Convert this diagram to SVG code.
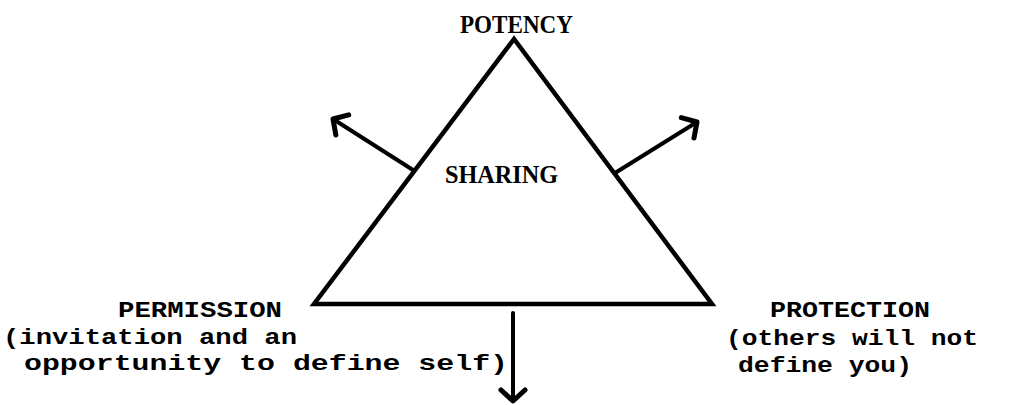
<svg xmlns="http://www.w3.org/2000/svg" width="1013" height="405" viewBox="0 0 1013 405">
  <style>
    .bg { fill: #ffffff; }
    .edge { fill: none; stroke: #000; stroke-width: 4.5; stroke-linejoin: miter; }
    .arrow { fill: none; stroke: #000; stroke-width: 4; stroke-linecap: round; }
    .title { font-family: "Liberation Serif", "Times New Roman", serif; font-weight: bold; font-size: 25px; fill: #000; }
    .mono { font-family: "Liberation Mono", "Courier New", monospace; font-weight: bold; font-size: 22px; fill: #000; }
  </style>
  <defs>
    <marker id="head" markerUnits="userSpaceOnUse" markerWidth="30" markerHeight="30" viewBox="-15 -15 30 30" refX="0" refY="0" orient="auto">
      <path d="M-11,-12 L0,0 L-11,12" fill="none" stroke="#000" stroke-width="5" stroke-linecap="round" stroke-linejoin="round"/>
    </marker>
  </defs>
  <rect class="bg" x="0" y="0" width="1013" height="405"/>

  <g id="triangle">
    <polygon class="edge" points="514,39 314,304 712,304"/>
  </g>

  <g id="connectors">
    <line class="arrow" x1="413" y1="170" x2="333" y2="119" marker-end="url(#head)"/>
    <line class="arrow" x1="615" y1="173" x2="697" y2="122" marker-end="url(#head)"/>
    <line class="arrow" x1="513" y1="313" x2="513" y2="401" marker-end="url(#head)"/>
  </g>

  <g id="potency">
    <text class="title" x="460" y="33" textLength="113" lengthAdjust="spacingAndGlyphs">POTENCY</text>
  </g>

  <g id="sharing">
    <text class="title" x="445" y="183" textLength="113" lengthAdjust="spacingAndGlyphs">SHARING</text>
  </g>

  <g id="permission">
    <text class="mono" x="118" y="317" textLength="164" lengthAdjust="spacingAndGlyphs">PERMISSION</text>
    <text class="mono" x="3" y="344" textLength="294" lengthAdjust="spacingAndGlyphs">(invitation and an</text>
    <text class="mono" x="24" y="370" textLength="484" lengthAdjust="spacingAndGlyphs">opportunity to define self)</text>
  </g>

  <g id="protection">
    <text class="mono" x="770" y="317" textLength="160" lengthAdjust="spacingAndGlyphs">PROTECTION</text>
    <text class="mono" x="726" y="345" textLength="252" lengthAdjust="spacingAndGlyphs">(others will not</text>
    <text class="mono" x="738" y="372" textLength="174" lengthAdjust="spacingAndGlyphs">define you)</text>
  </g>
</svg>
